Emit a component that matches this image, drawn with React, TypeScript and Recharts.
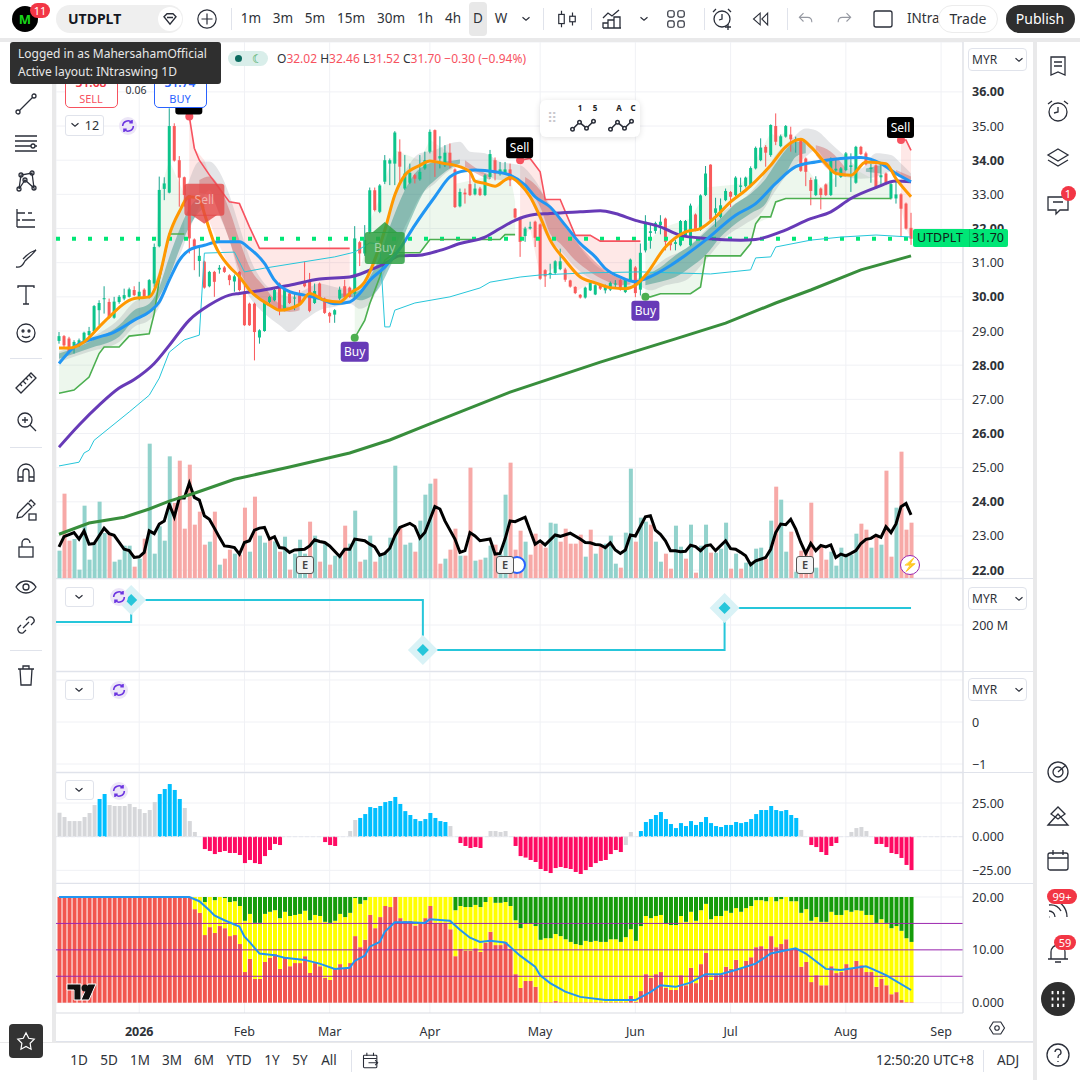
import React from "react";
import {
  Area,
  Bar,
  CartesianGrid,
  ComposedChart,
  Line,
  ReferenceDot,
  ReferenceLine,
  XAxis,
  YAxis,
} from "recharts";

const FONT = '"Noto Sans", sans-serif';

const opens = [
  28.71,28.85,28.78,28.53,28.58,28.71,28.88,29.0,29.61,29.93,
  29.85,29.39,29.85,29.95,30.0,30.2,30.0,30.21,30.0,30.39,
  31.48,33.16,33.05,35.0,34.0,33.5,32.98,31.68,31.05,31.03,
  30.31,30.73,30.8,30.86,30.63,30.45,30.73,30.15,29.8,29.8,
  28.81,29.0,29.85,29.9,30.39,29.61,30.1,29.95,30.05,30.44,
  30.44,29.82,30.39,29.95,29.53,29.48,29.95,30.31,30.27,30.09,
  31.6,31.27,31.9,33.12,32.49,33.37,33.9,33.9,34.25,33.17,
  33.34,33.56,33.44,33.76,34.25,34.88,34.05,33.85,34.22,33.73,
  32.65,33.05,33.3,33.0,33.17,32.98,33.51,34.0,33.59,33.61,
  33.73,32.58,32.32,31.78,32.0,32.2,32.12,30.78,30.68,30.7,
  30.81,30.8,30.48,30.29,30.06,29.98,30.19,30.07,30.34,30.19,
  30.21,30.36,30.49,30.14,30.48,30.86,30.21,31.36,31.87,31.93,
  32.1,32.29,31.61,31.55,31.51,31.8,31.51,32.41,31.97,32.98,
  33.87,32.46,32.34,32.83,33.07,32.98,33.22,33.24,33.24,33.76,
  34.0,34.39,34.15,35.0,34.41,34.69,34.75,34.58,34.61,34.05,
  33.42,32.98,33.17,33.29,32.98,33.7,33.51,33.71,33.8,33.34,
  34.39,34.2,33.74,33.85,33.5,33.61,32.88,32.88,33.0,32.73,
  32.02,
];
const highs = [
  28.97,28.88,28.83,28.73,28.78,28.98,29.12,29.76,29.9,30.31,
  29.95,30.0,30.05,30.24,30.27,30.31,30.44,30.25,30.52,31.56,
  33.52,33.5,35.52,35.08,34.12,33.52,32.98,31.71,31.51,31.06,
  30.76,30.76,30.93,30.9,30.66,30.65,30.76,30.44,29.83,29.83,
  29.05,29.88,30.03,30.29,30.42,30.24,30.13,30.1,30.2,31.03,
  30.7,30.39,30.42,29.98,29.56,29.64,30.3,30.5,30.3,32.07,
  31.64,32.1,33.2,33.2,33.3,34.15,34.05,34.85,34.61,34.15,
  33.9,33.6,34.15,34.25,34.9,34.9,34.7,34.44,34.49,33.76,
  33.17,33.17,33.66,33.32,33.22,33.6,34.3,34.08,33.95,33.95,
  33.9,32.6,32.35,32.05,32.2,32.23,32.15,30.81,30.97,31.07,
  31.41,30.85,30.5,30.31,30.08,30.3,30.45,30.37,30.37,30.36,
  30.45,30.49,30.52,30.54,31.12,30.9,31.56,32.39,32.15,32.2,
  32.39,32.32,31.65,31.66,32.25,32.25,32.73,32.44,33.0,33.83,
  33.88,32.9,32.88,33.17,33.1,33.53,33.49,33.52,33.82,34.4,
  34.64,34.44,35.05,35.37,34.75,35.03,34.98,34.69,34.63,34.08,
  33.49,33.53,33.2,33.32,34.08,34.02,33.8,34.24,34.2,34.42,
  34.42,34.25,33.9,33.88,33.9,33.64,33.33,33.39,33.03,32.76,
  32.46,
];
const lows = [
  28.63,28.53,28.34,28.34,28.53,28.68,28.83,28.97,29.17,29.51,
  29.36,29.36,29.8,29.9,29.98,30.02,29.9,29.97,29.95,30.29,
  31.45,32.83,33.03,33.96,32.64,32.64,31.27,30.78,30.59,30.24,
  30.28,30.0,30.68,30.7,30.34,30.15,30.16,29.15,29.15,28.14,
  28.63,28.98,29.8,29.87,29.46,29.58,29.79,29.61,29.77,30.28,
  29.55,29.79,29.92,29.5,29.24,29.24,29.9,29.97,29.97,30.0,
  30.9,31.2,31.85,32.5,32.45,33.3,33.27,33.27,33.32,33.12,
  33.3,33.32,33.4,33.72,34.2,33.51,33.76,33.8,33.76,32.6,
  32.62,32.73,32.95,32.97,32.95,32.95,33.45,33.41,33.55,33.58,
  33.24,32.28,31.17,31.61,31.97,31.46,30.5,30.29,30.53,30.65,
  30.78,30.44,30.27,30.08,29.95,29.95,30.17,30.05,30.2,30.1,
  30.17,30.24,30.18,30.11,30.45,29.99,30.04,31.3,31.41,31.85,
  31.83,31.36,31.36,31.36,31.48,31.77,31.48,31.92,31.93,32.95,
  32.22,32.05,32.3,32.8,32.63,32.95,33.07,33.2,33.2,33.73,
  33.97,33.81,34.1,34.44,34.38,34.66,34.25,34.22,33.66,33.24,
  32.68,32.95,32.56,32.95,32.95,33.22,33.48,33.68,33.07,33.31,
  34.15,33.85,33.34,33.17,33.24,33.27,32.85,32.73,31.75,31.97,
  31.52,
];
const closes = [
  28.85,28.58,28.39,28.68,28.73,28.95,29.0,29.73,29.82,29.96,
  29.39,29.86,30.0,30.05,30.22,30.05,30.15,30.0,30.49,31.46,
  33.13,33.32,35.0,33.99,33.49,32.98,31.71,31.47,31.2,30.27,
  30.73,30.44,30.85,30.73,30.49,30.6,30.2,29.17,29.17,28.97,
  29.02,29.85,30.0,30.2,29.61,30.2,29.82,29.98,29.8,30.31,
  29.59,30.17,29.95,29.53,29.43,29.61,30.21,30.0,30.0,31.71,
  31.27,31.66,33.12,32.54,33.26,34.0,34.0,34.81,33.81,33.61,
  33.63,33.46,33.66,34.0,34.83,34.0,34.12,34.22,33.85,32.63,
  33.07,33.0,32.98,33.17,32.98,33.56,34.18,33.61,33.73,33.73,
  33.41,32.32,31.61,32.0,32.05,31.73,30.53,30.6,30.7,31.04,
  31.04,30.5,30.3,30.11,29.98,30.27,30.41,30.34,30.24,30.29,
  30.41,30.39,30.21,30.5,31.09,30.11,31.29,32.2,31.92,32.16,
  32.2,31.61,31.51,31.6,32.22,32.22,32.67,31.95,32.97,33.61,
  32.26,32.59,32.68,33.1,32.93,33.49,33.26,33.49,33.77,34.36,
  34.37,34.22,35.03,34.54,34.7,35.0,34.61,34.62,33.69,33.66,
  33.1,33.44,32.98,32.98,34.05,33.75,33.76,34.2,33.85,34.39,
  34.18,33.88,33.78,33.2,33.56,33.3,33.3,33.0,32.58,32.0,
  31.7,
];
// signed: positive bars teal, negative bars pink
const volumes = [
  82,-253,-112,117,25,217,55,105,229,135,
  -130,49,55,97,97,-34,58,-118,403,73,
  155,112,365,-225,-352,-148,-340,-160,-199,-100,
  109,-199,40,-58,-85,73,-70,-211,79,-244,
  127,106,-124,110,-79,124,-25,73,115,73,
  -169,127,-49,109,-40,67,67,-157,103,202,
  -49,55,127,-49,70,73,121,337,-151,100,
  106,-79,172,250,283,-298,-43,58,-85,-148,
  67,-67,-331,52,-55,61,97,-100,70,250,
  -346,-85,-142,109,-70,-133,-103,-91,166,163,
  -109,-148,-103,-103,-130,64,-145,73,-97,103,
  127,43,-31,136,328,-109,181,169,-160,109,
  49,-73,-28,157,94,-58,160,-16,97,160,
  -76,76,88,166,-28,73,-28,46,49,88,
  91,-58,172,-274,235,79,-139,19,-82,-82,
  -226,31,-94,-55,79,37,91,73,70,133,
  -163,-145,91,-124,100,-322,-64,211,-379,-145,
  -166,
];

const orangeLine: number[][] = [
  [0,28.5],[2,28.5],[5,28.68],[9,29.27],[15,29.95],[18,30.0],[20,30.59],[22,31.81],[24,32.49],[26,32.93],
  [28,32.88],[29,32.44],[31,31.56],[34,30.88],[36,30.59],[38,30.2],[42,29.76],[44,29.61],[48,29.78],[50,30.1],
  [53,29.9],[56,29.85],[58,30.1],[61,30.44],[65,31.95],[67,32.98],[69,33.56],[72,33.85],[74,33.98],[77,33.9],
  [79,33.85],[82,33.66],[83,33.39],[85,33.32],[87,33.24],[89,33.42],[90,33.49],[92,33.3],[94,32.93],[96,32.34],
  [98,31.66],[101,31.07],[104,30.58],[107,30.41],[110,30.27],[113,30.24],[115,30.34],[117,30.63],[121,31.46],[125,31.9],
  [128,32.0],[131,32.34],[134,32.78],[137,33.12],[142,33.85],[145,34.39],[148,34.61],[150,34.39],[153,33.9],[155,33.61],
  [158,33.56],[161,33.95],[165,33.9],[167,33.46],[170,32.93],
];
const blueLine: number[][] = [
  [0,28.05],[3,28.53],[7,28.78],[11,28.97],[15,29.32],[18,29.56],[20,29.85],[22,30.49],[24,31.07],[26,31.37],
  [29,31.51],[32,31.61],[36,31.61],[38,31.42],[41,30.98],[43,30.49],[46,30.15],[49,30.05],[52,29.95],[55,29.8],
  [58,29.85],[60,30.1],[62,30.48],[65,30.87],[68,31.41],[71,32.1],[75,32.93],[78,33.51],[81,33.69],[83,33.71],
  [87,33.66],[90,33.56],[93,33.27],[95,32.93],[98,32.63],[101,32.1],[104,31.56],[107,31.17],[109,30.83],[112,30.58],
  [115,30.44],[117,30.53],[122,30.92],[125,31.22],[129,31.66],[135,32.39],[139,32.73],[143,33.32],[147,33.81],[151,33.95],
  [156,34.05],[160,34.08],[164,33.9],[167,33.61],[170,33.37],
];
const purpleLine: number[][] = [
  [0,25.6],[4,26.25],[8,26.83],[12,27.33],[15,27.58],[19,28.05],[22,28.58],[26,29.32],[30,29.76],[34,30.05],
  [36,30.1],[40,30.18],[46,30.34],[52,30.52],[58,30.58],[62,30.78],[65,30.97],[68,31.2],[72,31.22],[76,31.36],
  [80,31.56],[85,31.75],[88,32.0],[91,32.24],[94,32.39],[98,32.44],[104,32.49],[108,32.52],[111,32.44],[115,32.24],
  [120,32.05],[124,31.8],[129,31.71],[136,31.66],[139,31.68],[144,31.9],[150,32.29],[154,32.49],[158,32.88],[163,33.2],
  [167,33.39],[170,33.37],
];
const longLine: number[][] = [
  [0,23.05],[6,23.38],[13,23.55],[18,23.79],[22,24.02],[27,24.25],[35,24.66],[46,25.02],[58,25.43],[66,25.81],
  [74,26.28],[90,27.21],[108,28.09],[123,28.77],[133,29.23],[143,29.82],[150,30.2],[160,30.79],[170,31.2],
];
const cyanLine: number[][] = [
  [0,25.05],[4,25.16],[5,25.43],[6,25.51],[7,25.8],[14,26.63],[18,27.12],[20,27.62],[22,28.38],[25,28.74],
  [28,28.88],[29,31.28],[35,31.31],[37,30.73],[41,30.84],[55,31.17],[59,31.31],[62,31.58],[64,31.55],[65,29.12],
  [66,29.12],[67,29.61],[71,29.82],[78,30.0],[84,30.26],[86,30.43],[92,30.58],[96,30.64],[105,30.7],[116,30.73],
  [123,30.7],[130,30.67],[138,30.79],[139,31.14],[142,31.17],[143,31.46],[150,31.66],[156,31.75],[163,31.81],[170,31.75],
];
const blackLine: number[][] = [
  [0,22.68],[1,22.98],[3,23.1],[4,22.91],[5,23.15],[6,22.76],[7,22.78],[9,23.23],[10,23.07],[11,23.02],
  [13,22.61],[14,22.57],[15,22.37],[16,22.39],[17,22.52],[18,23.15],[19,23.07],[20,23.35],[21,23.44],[22,23.93],
  [23,23.56],[24,24.11],[25,24.11],[26,24.55],[27,24.13],[28,24.05],[29,23.59],[30,23.49],[31,23.23],[32,22.96],
  [33,22.71],[34,22.69],[35,22.66],[36,22.47],[37,22.81],[38,22.86],[39,23.17],[40,23.23],[41,23.25],[42,22.91],
  [43,22.98],[44,22.66],[45,22.64],[46,22.52],[47,22.59],[49,22.61],[50,22.71],[51,22.89],[52,22.84],[53,22.81],
  [54,22.71],[56,22.4],[57,22.61],[58,22.61],[59,22.91],[61,22.86],[62,22.76],[63,22.68],[64,22.44],[65,22.49],
  [66,22.64],[67,23.0],[68,23.25],[70,23.37],[71,23.28],[72,22.94],[73,23.1],[75,23.86],[76,23.79],[77,23.44],
  [79,22.91],[80,22.52],[81,22.57],[82,23.1],[83,23.0],[84,22.86],[86,22.91],[87,22.47],[88,22.49],[89,22.91],
  [90,23.44],[91,23.42],[93,23.55],[95,22.76],[96,22.86],[97,22.74],[99,23.03],[100,22.99],[102,23.08],[104,22.91],
  [105,22.81],[106,22.8],[107,22.75],[108,22.74],[109,22.66],[110,22.8],[111,22.59],[112,22.49],[113,22.59],[114,23.03],
  [115,23.0],[117,23.56],[118,23.59],[119,23.17],[120,23.05],[121,22.86],[122,22.57],[123,22.57],[124,22.54],[125,22.55],
  [126,22.73],[127,22.69],[128,22.57],[129,22.71],[130,22.74],[131,22.57],[133,22.86],[134,22.63],[135,22.61],[136,22.52],
  [137,22.42],[138,22.16],[139,22.27],[141,22.37],[142,22.61],[143,23.1],[144,23.35],[145,23.33],[146,23.49],[147,23.2],
  [148,22.81],[149,22.49],[150,22.78],[151,22.57],[152,22.72],[153,22.68],[154,22.74],[155,22.37],[156,22.47],[157,22.42],
  [158,22.49],[159,22.57],[160,22.78],[161,22.9],[162,22.93],[163,23.02],[164,22.96],[165,23.27],[166,23.1],[167,23.35],
  [168,23.86],[169,23.95],[170,23.62],
];

const greenStop1: number[][] = [[0,27.18],[3,27.27],[6,27.65],[8,28.34],[9,28.53],[12,28.53],[14,28.85],[18,28.92],[19,29.51],[20,30.49],[22,31.84],[25,31.84]];
const greenStop2: number[][] = [[59,28.8],[61,29.31],[62,29.8],[64,30.58],[65,31.07],[67,31.29],[72,31.29],[74,31.68],[88,31.68],[89,31.82],[91,31.82]];
const greenStop3: number[][] = [[117,30.0],[118,30.0],[120,30.09],[126,30.09],[128,30.29],[129,31.2],[136,31.2],[138,31.56],[139,32.14],[140,32.34],[142,32.34],[143,32.78],[145,32.88],[166,32.88]];
const redStop1: number[][] = [[26,35.28],[27,34.35],[28,34.0],[30,33.57],[32,33.17],[34,32.78],[36,32.73],[38,32.05],[40,31.42],[58,31.42]];
const redStop2: number[][] = [[92,34.0],[94,34.05],[96,33.66],[97,32.85],[100,32.85],[103,31.8],[106,31.8],[108,31.63],[116,31.63]];
const redStop3: number[][] = [[168,34.59],[169,34.59],[170,34.29]];

const greenFill1: number[][] = [[0,27.18,28.5],[3,27.27,28.55],[6,27.65,28.75],[8,28.34,29.0],[9,28.53,29.27],[12,28.53,29.6],[14,28.85,29.95],[18,28.92,30.0],[19,29.51,31.0],[20,30.49,33.0],[22,31.84,34.0],[25,31.84,33.0]];
const greenFill2: number[][] = [[59,28.8,30.3],[61,29.31,31.3],[62,29.8,32.2],[64,30.58,32.9],[65,31.07,33.4],[67,31.29,34.3],[72,31.29,34.0],[74,31.68,34.6],[78,31.68,34.2],[79,31.68,33.3],[85,31.68,33.5],[88,31.68,33.7],[89,31.82,33.75],[90,31.82,33.6],[91,31.82,32.8]];
const greenFill3: number[][] = [[117,30.0,31.5],[120,30.09,32.0],[126,30.09,32.3],[128,30.29,32.8],[129,31.2,33.2],[136,31.2,33.3],[138,31.56,33.6],[139,32.14,34.0],[142,32.34,34.8],[143,32.78,34.7],[145,32.88,34.8],[148,32.88,34.0],[152,32.88,33.2],[158,32.88,33.8],[163,32.88,33.4],[166,32.88,33.3]];
const pinkFill1: number[][] = [[26,32.93,35.28],[27,32.9,34.35],[29,32.5,34.0],[30,32.2,33.57],[32,31.5,33.17],[34,30.88,32.78],[36,30.59,32.73],[38,30.25,32.05],[40,29.95,31.42],[44,29.63,31.42],[48,29.78,31.42],[51,30.1,31.42],[53,29.9,31.42],[57,29.85,31.42],[58,30.0,31.42]];
const pinkFill2: number[][] = [[92,31.6,34.0],[94,32.0,34.05],[96,30.6,33.66],[97,30.7,32.85],[100,30.95,32.85],[103,30.15,31.8],[106,30.4,31.8],[108,30.3,31.63],[112,30.3,31.63],[116,30.7,31.63]];
const pinkFill3: number[][] = [[168,32.6,34.59],[169,32.0,34.59],[170,31.7,34.29]];

const greyCloud: number[][] = [
  [0,28.09,28.39],[6,28.39,28.78],[12,28.68,29.36],[15,29.12,29.85],[18,29.32,30.0],[20,29.71,30.78],[22,30.59,31.76],[24,31.17,32.44],[26,31.95,33.42],[28,32.64,33.96],
  [30,33.13,33.96],[32,32.39,33.66],[34,31.66,32.98],[36,30.59,32.05],[38,30.0,31.17],[41,29.51,30.39],[44,29.17,30.1],[46,28.97,30.0],[49,29.32,30.2],[52,29.61,30.39],
  [55,29.71,30.29],[58,29.8,30.24],[60,29.65,30.29],[62,29.8,30.87],[64,30.39,31.66],[66,31.07,32.54],[68,31.75,33.32],[70,32.34,33.9],[72,32.93,34.2],[75,33.32,34.3],
  [78,33.71,34.49],[80,33.81,34.54],[82,33.76,34.25],[85,33.56,34.2],[88,33.42,33.95],[90,33.46,33.9],[92,33.42,33.85],[95,32.54,33.41],[97,31.85,32.93],[100,31.36,32.24],
  [103,30.87,31.66],[106,30.53,31.07],[109,30.29,30.73],[112,30.24,30.58],[115,30.34,30.53],[118,30.19,30.78],[121,30.34,31.12],[125,30.48,31.41],[129,31.07,31.95],[133,31.75,32.54],
  [137,32.14,32.93],[140,32.44,33.41],[143,33.12,34.15],[146,33.71,34.59],[149,34.1,34.93],[151,34.3,34.88],[154,33.71,34.49],[157,33.51,34.1],[160,33.46,33.76],[163,33.51,34.2],
  [166,33.66,34.15],[168,33.46,33.9],[170,33.32,33.61],
];
const tealRibbon1: number[][] = [[0,28.19,28.34],[6,28.49,28.68],[12,28.83,29.17],[15,29.32,29.61],[18,29.51,29.8],[20,30.0,30.29],[22,30.59,31.17],[24,31.37,31.95],[26,32.05,32.59],[28,32.49,32.88],[29,32.6,32.85]];
const tealRibbon2: number[][] = [[56,29.95,30.1],[58,30.0,30.1],[60,29.9,30.19],[62,29.99,30.58],[64,30.29,31.17],[66,30.87,32.05],[67,31.17,32.44],[69,31.85,33.12],[71,32.54,33.61],[73,33.12,33.85],[75,33.41,33.95],[78,33.76,33.98],[80,33.9,34.02]];
const tealRibbon3: number[][] = [[117,30.34,30.63],[120,30.44,30.87],[123,30.58,31.22],[126,30.87,31.51],[129,31.22,31.9],[132,31.75,32.29],[135,32.14,32.73],[138,32.44,33.02],[141,32.73,33.46],[143,33.32,33.9],[145,33.61,34.3],[147,34.1,34.54],[149,34.2,34.54]];
const tealRibbon4: number[][] = [[161,33.66,33.76],[164,33.61,33.86]];
const redRibbon1: number[][] = [[28,33.03,33.42],[30,32.98,33.52],[32,32.44,33.22],[34,31.66,32.54],[36,30.78,31.66],[38,30.24,30.88],[41,29.8,30.29],[44,29.61,29.8],[46,29.56,29.71],[48,29.61,29.76]];
const redRibbon2: number[][] = [[81,33.8,34.0],[84,33.55,33.7],[86,33.42,33.56]];
const redRibbon3: number[][] = [[93,33.22,33.51],[96,32.63,33.12],[98,31.85,32.63],[100,31.56,32.24],[103,31.07,31.66],[106,30.73,31.17],[109,30.48,30.78],[112,30.34,30.53],[114,30.36,30.41]];
const redRibbon4: number[][] = [[151,34.15,34.44],[154,33.66,34.25],[157,33.51,33.76]];
const redRibbon5: number[][] = [[167,33.56,33.71],[170,33.42,33.52]];

const sellSignals: number[][] = [[26,35.28],[92,34.0],[168,34.59]];
const buySignals: number[][] = [[59,28.8],[117,30.0]];

// the pivot step line in the second pane, in millions
const stepK = [-1, 14.4, 72.6, 132.8, 170];
const stepValue = [206, 250, 150, 234, 234];

const histogram = [
  17.8,14.6,11.6,11.6,11.6,14.6,17.6,23.5,28,31.7,
  23.5,22.8,22.8,22.8,24.3,22,20.5,17.6,19.8,25.7,
  31.7,35.4,39.1,34.7,28,21.3,11.6,3.5,0,-9.2,
  -10.6,-12.9,-11.4,-10.6,-12.1,-12.1,-13.6,-19.6,-17.3,-19.6,
  -20.3,-14.4,-9.9,-5.4,-6.2,0,0,0,0,0,
  0,0,0,-4,-6.2,-6.9,0,0,4.2,12.4,
  13.9,16.8,22,21.3,22.8,25.7,26.5,29.5,24.3,19,
  16.1,13.1,11.6,13.1,17.6,13.9,11.6,10.9,7.9,0,
  -4.7,-6.9,-8.4,-7.7,-8.4,0,4.2,4.2,3.5,4.2,
  0,-6.9,-14.4,-15.5,-17.3,-18.8,-24,-25.5,-27,-23.3,
  -22.5,-23.3,-24,-26.2,-27.7,-24.8,-22.5,-19.6,-18,-17.3,
  -12.9,-9.9,-11.4,-6.2,3.5,0,4.2,10.9,13.1,16.1,
  18.3,13.1,9.4,6.4,10.1,7.9,11.6,8.7,10.9,14.6,
  10.1,7.9,7.2,8.7,8.7,10.9,10.1,10.9,13.1,16.8,
  19.8,19.8,22.8,19.8,19,19.8,16.1,13.9,5,0,
  -6.2,-7.7,-11.4,-13.6,-6.9,-4.7,0,0,3.5,6.4,
  7.2,4.2,0,-5.4,-5.4,-7.7,-12.1,-12.9,-15.8,-21,
  -24.8,
];
const histBlueRuns = [[8,9],[20,24],[60,77],[116,147]];
const histGreyNegative = [113];

const redLevel = [
  20,20,20,20,20,20,20,20,20,20,
  20,20,20,20,20,20,20,20,20,20,
  20,20,20,20,20,20,20,17.7,17,12.8,
  14.3,13.2,14.5,14.1,12.6,12.8,11.1,5.8,8.3,4.5,
  4.5,7.7,8.5,9.2,6.4,8.5,6.9,7.5,7.5,8.8,
  5.6,7.5,6.9,4.7,4.3,6.4,7.3,6.4,7.5,12.6,
  10.5,11.9,16.6,14.1,16.2,18.3,18.1,20,16,15.5,
  15.5,14.6,15.1,16,18.3,15.1,15.1,15.1,13.9,8.8,
  10.2,9.8,9.8,10.3,9.6,11.3,13.4,10.9,10.9,11.5,
  10.2,5.4,2.8,4.1,4.1,3,0.1,0.1,0.1,0.3,
  0.1,0.1,0.1,0.1,0.1,0.1,0.1,0.1,0.1,0.1,
  0.1,0.1,0.1,0.1,1.3,0.2,2.2,5.4,4.7,5.4,
  5.8,2.8,2.4,2.4,5.2,3.3,6.6,3.7,7.3,9.4,
  4.3,5.2,5.4,6.8,6.4,8.1,6.4,7.9,8.6,10.5,
  10.7,10.2,12.6,10.5,11.1,12,10.2,10.2,6.8,7.7,
  3.9,5.2,3.3,3.3,6.9,5.6,5.8,7.3,6.6,7.9,
  7.1,5.8,5.8,3,4.5,3.3,1.6,2,0.5,0.1,
  0.1,
];
const yellowLevel = [
  20,20,20,20,20,20,20,20,20,20,
  20,20,20,20,20,20,20,20,20,20,
  20,20,20,20,20,20,20,20,20,19.05,
  20,19.4,20,19.8,19.05,19.2,18.3,15.5,16.8,15.1,
  15.1,16.8,17.2,17.5,16,17.2,16.4,16.6,16.8,17.4,
  15.6,16.6,16.4,15.3,15.1,15.5,16.8,16.2,17,19.8,
  18.7,19.4,20,20,20,20,20,20,20,20,
  20,20,20,20,20,20,20,20,20,17.5,
  18.3,18.1,18.1,18.5,18.1,19.05,20,18.9,18.9,19.05,
  18.3,15.6,14.1,14.9,14.9,14.5,11.9,12.2,12.2,13,
  12.6,12,11.5,11.1,10.9,11.7,11.5,11.7,11.5,11.5,
  12,12,11.5,12.4,13.9,11.7,14.5,16.4,16,16.4,
  16.6,14.9,14.7,14.7,16.4,15.3,17.2,15.5,17.5,18.7,
  15.8,16.4,16.4,17.4,17,17.9,17.2,17.9,18.3,19.4,
  19.4,19.2,20,19.2,19.6,20,19.2,19.2,17,17.7,
  15.5,16.2,15.3,15.3,17.2,16.6,16.6,17.5,17.2,17.5,
  17.4,16.6,16.6,15.1,15.8,15.1,14.1,14.5,13.6,12.2,
  11.5,
];
const scoreLine: number[][] = [
  [0,20],[26,20],[28,19.2],[30,17.5],[31,16.5],[33,15.6],[36,14.4],[37,12.5],[38,11.5],[40,9.3],
  [43,9],[45,8.5],[49,8.1],[52,7.4],[55,6.4],[58,6.6],[59,7.9],[61,8.9],[62,10.6],[64,11.5],
  [65,13.4],[67,15.2],[70,15.2],[73,15.1],[74,15.8],[78,15.5],[80,13.8],[82,12.3],[84,11.5],[86,11.7],
  [89,11.4],[90,10.6],[92,8.9],[95,6.8],[96,5.2],[98,3.7],[101,2.1],[104,1.1],[109,0.5],[115,0.5],
  [118,2],[120,3.3],[123,3],[126,3.8],[129,5.4],[132,5.4],[135,6.2],[139,7.4],[142,9.3],[147,10.3],
  [149,9.3],[153,6.4],[156,6.2],[161,6.9],[162,6.5],[165,5.2],[170,2.4],
];

const monthTicks = [16, 37, 54, 74, 96, 115, 134, 157, 176];
const monthLabels = ["2026", "Feb", "Mar", "Apr", "May", "Jun", "Jul", "Aug", "Sep"];
const priceTicks = [36,35,34,33,32,31,30,29,28,27,26,25,24,23,22];
const flatTicks = [1, 0, -1];
const histTicks = [25, 0, -25];
const scoreTicks = [20, 15, 10, 5, 0];
const scoreLabelled = [20, 10, 0];
const timeframes = ["1m","3m","5m","15m","30m","1h","4h","D","W"];
const timeframeX = [251,283,315,351,391,425,453,478,501];
const ranges = ["1D","5D","1M","3M","6M","YTD","1Y","5Y","All"];
const rangeX = [79,109,140,172,204,239,272,300,329];

const X_DOMAIN = [-0.6, 180.37];
const GRID = "#f0f1f5";
const TEXT = "#2e3238";

const knotSeries: Record<string, number[][]> = {
  orange: orangeLine, blue: blueLine, purple: purpleLine, long: longLine, cyan: cyanLine, black: blackLine,
  gs1: greenStop1, gs2: greenStop2, gs3: greenStop3, rs1: redStop1, rs2: redStop2, rs3: redStop3, score: scoreLine,
};
const bandSeries: Record<string, number[][]> = {
  gf1: greenFill1, gf2: greenFill2, gf3: greenFill3, pf1: pinkFill1, pf2: pinkFill2, pf3: pinkFill3,
  cloud: greyCloud, tr1: tealRibbon1, tr2: tealRibbon2, tr3: tealRibbon3, tr4: tealRibbon4,
  rr1: redRibbon1, rr2: redRibbon2, rr3: redRibbon3, rr4: redRibbon4, rr5: redRibbon5,
};

function histColor(k: number, v: number) {
  if (histBlueRuns.some(([a, b]) => k >= a && k <= b)) return "#00bfff";
  if (v < 0 && !histGreyNegative.includes(k)) return "#ff0a63";
  return "#d6d7da";
}

const rows: any[] = closes.map((close, k) => {
  const row: any = {
    k,
    open: opens[k],
    close,
    hl: [lows[k], highs[k]],
    volume: Math.abs(volumes[k]),
    volColor: volumes[k] >= 0 ? "#92d2cc" : "#f7a9a7",
    hist: histogram[k],
    histColor: histColor(k, histogram[k]),
    redPart: redLevel[k],
    yellowPart: yellowLevel[k] - redLevel[k],
    greenPart: 20 - yellowLevel[k],
  };
  Object.keys(bandSeries).forEach((name) => { row[name] = [null, null]; });
  return row;
});
Object.entries(knotSeries).forEach(([name, pts]) => pts.forEach(([k, v]) => { rows[k][name] = v; }));
Object.entries(bandSeries).forEach(([name, pts]) => pts.forEach(([k, lo, hi]) => { rows[k][name] = [lo, hi]; }));

const stepRows = stepK.map((k, i) => ({ k, step: stepValue[i] }));

function Candle(p: any) {
  const { x, y, width, height, payload } = p;
  const top = Math.min(y, y + height);
  const h = Math.abs(height);
  const hi = payload.hl[1];
  const lo = payload.hl[0];
  const toY = (v: number) => top + ((hi - v) / (hi - lo || 1)) * h;
  const up = payload.close >= payload.open;
  const bodyTop = toY(Math.max(payload.open, payload.close));
  const bodyH = Math.max(1, toY(Math.min(payload.open, payload.close)) - bodyTop);
  const cx = x + width / 2;
  return (
    <g>
      <line x1={cx} x2={cx} y1={top} y2={top + h} stroke={up ? "#1aa58f" : "#f9575a"} strokeWidth={1} />
      <rect x={x} y={bodyTop} width={width} height={bodyH} fill={up ? "#0dc48b" : "#f95b5b"} />
    </g>
  );
}

function ColorBar(p: any) {
  const h = Math.abs(p.height);
  if (!h) return null;
  return <rect x={p.x} y={Math.min(p.y, p.y + p.height)} width={p.width} height={h} fill={p.fill} />;
}
const VolumeBar = (p: any) => <ColorBar {...p} fill={p.payload.volColor} />;
const HistBar = (p: any) => <ColorBar {...p} fill={p.payload.histColor} />;

function AxisTick(p: any) {
  const { x, y, payload, format, boldTest } = p;
  return (
    <text x={x} y={y + 4.5} fontSize={12.5} fontFamily={FONT} fill={TEXT} fontWeight={boldTest?.(payload.value) ? 700 : 400}>
      {format(payload.value)}
    </text>
  );
}
const priceFormat = (v: number) => v.toFixed(2);
const evenTest = (v: number) => v % 2 === 0;
const flatFormat = (v: number) => (v === 0 ? "0" : v === -1 ? "−1" : "");
const millionFormat = (v: number) => `${v} M`;
const histFormat = (v: number) => (v === 0 ? "0.000" : v < 0 ? `−${Math.abs(v).toFixed(2)}` : v.toFixed(2));
const scoreFormat = (v: number) => (scoreLabelled.includes(v) ? (v === 0 ? "0.000" : v.toFixed(2)) : "");

function MonthTick(p: any) {
  const i = monthTicks.indexOf(p.payload.value);
  return (
    <text x={p.x} y={p.y + 15} textAnchor="middle" fontSize={12.5} fontFamily={FONT} fill={TEXT} fontWeight={i === 0 ? 700 : 400}>
      {monthLabels[i]}
    </text>
  );
}

function SellMark(p: any) {
  return (
    <g>
      <circle cx={p.cx} cy={p.cy} r={4} fill="#f7525f" />
      <rect x={p.cx - 14} y={p.cy - 23} width={27} height={21} rx={3} fill="#000" />
      <text x={p.cx - 0.5} y={p.cy - 8} textAnchor="middle" fontSize={12} fontFamily={FONT} fill="#fff">Sell</text>
    </g>
  );
}
function BuyMark(p: any) {
  return (
    <g>
      <circle cx={p.cx} cy={p.cy} r={4} fill="#4caf50" />
      <rect x={p.cx - 14} y={p.cy + 4} width={28} height={20} rx={3} fill="#673ab7" />
      <text x={p.cx} y={p.cy + 18.5} textAnchor="middle" fontSize={12} fontFamily={FONT} fill="#fff">Buy</text>
    </g>
  );
}
function BigLabel(p: any) {
  const up = p.kind === "Buy";
  const fill = up ? "rgba(46,160,67,0.85)" : "rgba(226,70,70,0.8)";
  const c = p.cy;
  const arrow = up ? `M${p.cx - 13} ${c - 15} L${p.cx} ${c - 26} L${p.cx + 13} ${c - 15} Z` : `M${p.cx - 13} ${c + 15} L${p.cx} ${c + 24} L${p.cx + 13} ${c + 15} Z`;
  return (
    <g>
      <path d={arrow} fill={fill} />
      <rect x={p.cx - 20} y={c - 16} width={40} height={32} rx={3} fill={fill} />
      <text x={p.cx} y={c + 4} textAnchor="middle" fontSize={12} fontFamily={FONT} fill="rgba(255,255,255,0.5)">{p.kind}</text>
    </g>
  );
}
function Diamond(p: any) {
  const r = 15;
  return (
    <g>
      <path d={`M${p.cx} ${p.cy - r} L${p.cx + r} ${p.cy} L${p.cx} ${p.cy + r} L${p.cx - r} ${p.cy} Z`} fill="#d9f2f6" />
      <path d={`M${p.cx} ${p.cy - 6} L${p.cx + 6} ${p.cy} L${p.cx} ${p.cy + 6} L${p.cx - 6} ${p.cy} Z`} fill="#26c6da" />
    </g>
  );
}
const buyBig = (p: any) => <BigLabel {...p} kind="Buy" />;
const sellBig = (p: any) => <BigLabel {...p} kind="Sell" />;

const timeAxis = (extra: any = {}) => (
  <XAxis type="number" dataKey="k" domain={X_DOMAIN} ticks={monthTicks} allowDataOverflow interval={0} {...extra} />
);

const paneStyle = (top: number): React.CSSProperties => ({ position: "absolute", left: 56, top });

function PricePane() {
  return (
    <>
      <div style={paneStyle(42)}>
        <ComposedChart width={977} height={536} data={rows} margin={{ top: 0, right: 0, bottom: 0, left: 0 }}>
          <CartesianGrid stroke={GRID} />
          {timeAxis({ hide: true })}
          <YAxis orientation="right" type="number" width={70} domain={[21.77, 37.46]} ticks={priceTicks} interval={0} allowDataOverflow tickLine={false} tickSize={0} tickMargin={9} axisLine={{ stroke: "#d9dbe1" }}
            tick={<AxisTick format={priceFormat} boldTest={evenTest} />} />
          <YAxis yAxisId="vol" hide type="number" domain={[0, 1608]} allowDataOverflow />
          <Bar yAxisId="vol" dataKey="volume" barSize={4} shape={VolumeBar} isAnimationActive={false} />
        </ComposedChart>
      </div>
      <div style={paneStyle(42)}>
        <ComposedChart width={977} height={536} data={rows} margin={{ top: 0, right: 70, bottom: 0, left: 0 }}>
          {timeAxis({ hide: true })}
          <YAxis hide type="number" domain={[21.77, 37.46]} allowDataOverflow />
          <Line dataKey="black" stroke="#000" strokeWidth={3} dot={false} connectNulls isAnimationActive={false} />
          <Bar dataKey="hl" barSize={3} shape={Candle} isAnimationActive={false} />
          {["gf1", "gf2", "gf3"].map((n) => (
            <Area key={n} dataKey={n} stroke="none" fill="#4caf50" fillOpacity={0.1} connectNulls dot={false} activeDot={false} isAnimationActive={false} />
          ))}
          {["pf1", "pf2", "pf3"].map((n) => (
            <Area key={n} dataKey={n} stroke="none" fill="#f44336" fillOpacity={0.12} connectNulls dot={false} activeDot={false} isAnimationActive={false} />
          ))}
          <Area dataKey="cloud" type="monotone" stroke="none" fill="#787b86" fillOpacity={0.2} connectNulls dot={false} activeDot={false} isAnimationActive={false} />
          {["tr1", "tr2", "tr3", "tr4"].map((n) => (
            <Area key={n} dataKey={n} type="monotone" stroke="none" fill="#00796b" fillOpacity={0.36} connectNulls dot={false} activeDot={false} isAnimationActive={false} />
          ))}
          {["rr1", "rr2", "rr3", "rr4", "rr5"].map((n) => (
            <Area key={n} dataKey={n} type="monotone" stroke="none" fill="#c62828" fillOpacity={0.3} connectNulls dot={false} activeDot={false} isAnimationActive={false} />
          ))}
          <ReferenceLine y={31.7} stroke="#00e676" strokeWidth={4} strokeDasharray="4 12" />
          <ReferenceDot x={29} y={32.84} shape={sellBig} ifOverflow="visible" />
          <ReferenceDot x={65} y={31.43} shape={buyBig} ifOverflow="visible" />
          <Line dataKey="cyan" stroke="#26c6da" strokeWidth={1} dot={false} connectNulls isAnimationActive={false} />
          {["gs1", "gs2", "gs3"].map((n) => (
            <Line key={n} dataKey={n} stroke="#4caf50" strokeWidth={1.6} dot={false} connectNulls isAnimationActive={false} />
          ))}
          {["rs1", "rs2", "rs3"].map((n) => (
            <Line key={n} dataKey={n} stroke="#f7525f" strokeWidth={1.6} dot={false} connectNulls isAnimationActive={false} />
          ))}
          <Line dataKey="long" stroke="#388e3c" strokeWidth={3} dot={false} connectNulls isAnimationActive={false} />
          <Line dataKey="purple" type="monotone" stroke="#673ab7" strokeWidth={3} dot={false} connectNulls isAnimationActive={false} />
          <Line dataKey="blue" type="monotone" stroke="#2196f3" strokeWidth={3} dot={false} connectNulls isAnimationActive={false} />
          <Line dataKey="orange" type="monotone" stroke="#ff9800" strokeWidth={3} dot={false} connectNulls isAnimationActive={false} />
          {sellSignals.map(([k, v]) => <ReferenceDot key={k} x={k} y={v} shape={SellMark} ifOverflow="visible" />)}
          {buySignals.map(([k, v]) => <ReferenceDot key={k} x={k} y={v} shape={BuyMark} ifOverflow="visible" />)}
        </ComposedChart>
      </div>
    </>
  );
}

function StepPane() {
  return (
    <div style={paneStyle(579)}>
      <ComposedChart width={977} height={92} data={stepRows} margin={{ top: 0, right: 0, bottom: 0, left: 0 }}>
        <CartesianGrid stroke={GRID} />
        {timeAxis({ hide: true })}
        <YAxis orientation="right" type="number" width={70} domain={[108, 292]} ticks={[200]} interval={0} allowDataOverflow tickLine={false} tickSize={0} tickMargin={9} axisLine={{ stroke: "#d9dbe1" }}
          tick={<AxisTick format={millionFormat} />} />
        <Line dataKey="step" type="stepAfter" stroke="#26c6da" strokeWidth={2} dot={false} isAnimationActive={false} />
        {stepRows.slice(1, 4).map((r) => (
          <ReferenceDot key={r.k} x={r.k} y={r.step} shape={Diamond} ifOverflow="visible" />
        ))}
      </ComposedChart>
    </div>
  );
}

function FlatPane() {
  return (
    <div style={paneStyle(672)}>
      <ComposedChart width={977} height={100} data={rows} margin={{ top: 0, right: 0, bottom: 0, left: 0 }}>
        <CartesianGrid stroke={GRID} />
        {timeAxis({ hide: true })}
        <YAxis orientation="right" type="number" width={70} domain={[-1.19, 1.19]} ticks={flatTicks} interval={0} allowDataOverflow tickLine={false} tickSize={0} tickMargin={9} axisLine={{ stroke: "#d9dbe1" }}
          tick={<AxisTick format={flatFormat} />} />
      </ComposedChart>
    </div>
  );
}

function HistPane() {
  return (
    <div style={paneStyle(773)}>
      <ComposedChart width={977} height={110} data={rows} margin={{ top: 0, right: 0, bottom: 0, left: 0 }}>
        <CartesianGrid stroke={GRID} />
        {timeAxis({ hide: true })}
        <YAxis orientation="right" type="number" width={70} domain={[-34.4, 47.3]} ticks={histTicks} interval={0} allowDataOverflow tickLine={false} tickSize={0} tickMargin={9} axisLine={{ stroke: "#d9dbe1" }}
          tick={<AxisTick format={histFormat} />} />
        <Bar dataKey="hist" barSize={4} shape={HistBar} isAnimationActive={false} />
        <ReferenceLine y={0} stroke="#e6e8ee" strokeDasharray="4 2" />
      </ComposedChart>
    </div>
  );
}

function ScorePane() {
  return (
    <div style={paneStyle(884)}>
      <ComposedChart width={977} height={157} data={rows} margin={{ top: 0, right: 0, bottom: 0, left: 0 }}>
        <CartesianGrid stroke={GRID} horizontalValues={[20, 10, 0]} />
        {timeAxis({ height: 28, tick: <MonthTick />, tickLine: false, axisLine: { stroke: "#d9dbe1" } })}
        <YAxis orientation="right" type="number" width={70} domain={[-1.95, 22.46]} ticks={scoreTicks} interval={0} allowDataOverflow tickLine={false} tickSize={0} tickMargin={9} axisLine={{ stroke: "#d9dbe1" }}
          tick={<AxisTick format={scoreFormat} />} />
        <Bar dataKey="redPart" stackId="s" barSize={4} fill="#f2564f" isAnimationActive={false} />
        <Bar dataKey="yellowPart" stackId="s" barSize={4} fill="#ffff00" isAnimationActive={false} />
        <Bar dataKey="greenPart" stackId="s" barSize={4} fill="#159c0a" isAnimationActive={false} />
        <ReferenceLine y={15} stroke="#9c27b0" strokeWidth={1} />
        <ReferenceLine y={10} stroke="#9c27b0" strokeWidth={1} />
        <ReferenceLine y={5} stroke="#9c27b0" strokeWidth={1} />
        <Line dataKey="score" stroke="#2196f3" strokeWidth={2} dot={false} connectNulls isAnimationActive={false} />
      </ComposedChart>
    </div>
  );
}

// screen chrome
function T({ x, y, children, size = 13, color = TEXT, weight = 400, anchor = "center" }: any) {
  const tx = anchor === "center" ? "-50%" : "0";
  return (
    <div style={{ position: "absolute", left: x, top: y, transform: `translate(${tx},-50%)`, fontFamily: FONT, fontSize: size, color, fontWeight: weight, whiteSpace: "nowrap", lineHeight: 1 }}>
      {children}
    </div>
  );
}
function Box({ x, y, w, h, bg, r = 0, border, children, z }: any) {
  return (
    <div style={{ position: "absolute", left: x, top: y, width: w, height: h, background: bg, borderRadius: r, border, boxSizing: "border-box", zIndex: z }}>
      {children}
    </div>
  );
}
function Icon({ x, y, size = 24, color = "#2a2e39", sw = 1.3, children }: any) {
  return (
    <svg width={size} height={size} viewBox="0 0 24 24" fill="none" stroke={color} strokeWidth={sw} style={{ position: "absolute", left: x - size / 2, top: y - size / 2 }}>
      {children}
    </svg>
  );
}
function Badge({ x, y, text, w = 18 }: any) {
  return (
    <div style={{ position: "absolute", left: x - w / 2, top: y - 7.5, width: w, height: 15, borderRadius: 8, background: "#f23645", color: "#fff", fontFamily: FONT, fontSize: 11, lineHeight: "15px", textAlign: "center" }}>
      {text}
    </div>
  );
}
function Chevron({ x, y }: any) {
  return <Icon x={x} y={y} size={14}><path d="M6 9l6 5 6-5" strokeWidth={2} /></Icon>;
}
function Loop({ x, y }: any) {
  return (
    <>
      <div style={{ position: "absolute", left: x - 9, top: y - 9, width: 18, height: 18, borderRadius: 9, background: "#ece6f7" }} />
      <Icon x={x} y={y} size={16} color="#6b34e0" sw={2.4}><path d="M4 12a8 8 0 0 1 14-5M20 12a8 8 0 0 1-14 5M18 3v4h-4M6 21v-4h4" /></Icon>
    </>
  );
}
function PaneButton({ x, y }: any) {
  return (
    <>
      <Box x={x} y={y} w={29} h={20} bg="#fff" r={3} border="1px solid #e0e3eb" />
      <Chevron x={x + 14} y={y + 10} />
    </>
  );
}
function MyrButton({ y }: any) {
  return (
    <>
      <Box x={968} y={y} w={59} h={23} bg="#fff" r={4} border="1px solid #e0e3eb" />
      <T x={972} y={y + 11.5} size={12} anchor="left">MYR</T>
      <Chevron x={1019} y={y + 11.5} />
    </>
  );
}
function EventE({ x }: any) {
  return (
    <div style={{ position: "absolute", left: x - 9, top: 556, width: 18, height: 18, border: "1.5px solid #555", borderRadius: 3, background: "#f4f4f4", boxSizing: "border-box", fontFamily: FONT, fontSize: 11, fontWeight: 600, color: "#444", textAlign: "center", lineHeight: "15px" }}>
      E
    </div>
  );
}

const leftIcons: [number, React.ReactNode][] = [
  [104, <g><path d="M5 19L19 5" /><circle cx="4" cy="20" r="2" /><circle cx="20" cy="4" r="2" /></g>],
  [143, <g><path d="M1 5h22M1 10h22M1 15h22M1 20h22" /><circle cx="19" cy="15" r="2" fill="#fff" /></g>],
  [181, <g><path d="M5 20L7 6l11-2 2 15-9-8z" /><circle cx="5" cy="20" r="2" /><circle cx="7" cy="6" r="2" /><circle cx="18" cy="4" r="2" /><circle cx="20" cy="19" r="2" /><circle cx="11" cy="11" r="2" /></g>],
  [218, <g><path d="M3 3v18M3 7h8M3 21h18M8 14h13M3 14h3M14 7h4" /></g>],
  [258, <g><path d="M2 21c6 1 7-3 9-6l3-3c4-3 6-6 8-8-3 1-7 3-10 6l-3 3" /></g>],
  [295, <g><path d="M4 5V3h16v2M12 3v18M9 21h6" /></g>],
  [333, <g><circle cx="12" cy="12" r="9" /><circle cx="9" cy="10" r="1" /><circle cx="15" cy="10" r="1" /><path d="M8 15c2 2 6 2 8 0" /></g>],
  [383, <g><path d="M2 17L17 2l5 5L7 22z M6 13l2 2M9 10l3 3M12 7l2 2M15 4l3 3" /></g>],
  [421, <g><circle cx="11" cy="11" r="7" /><path d="M16 16l6 6M11 8v6M8 11h6" /></g>],
  [473, <g><path d="M4 20V11a8 8 0 0 1 16 0v9h-5v-9a3 3 0 0 0-6 0v9zM4 16h5M15 16h5" /></g>],
  [510, <g><path d="M3 20l1-5L14 5l4 4L8 19zM15 4l2-2 4 4-2 2" /><rect x="15" y="16" width="7" height="6" /></g>],
  [548, <g><rect x="5" y="11" width="14" height="10" /><path d="M8 11V7a4 4 0 0 1 8 0" /></g>],
  [587, <g><path d="M2 12c5-8 15-8 20 0-5 8-15 8-20 0z" /><circle cx="12" cy="12" r="3" /></g>],
  [625, <g><path d="M9 15l6-6M7 12l-3 3a4 4 0 0 0 5 5l3-3M12 7l3-3a4 4 0 0 1 5 5l-3 3" /></g>],
  [675, <g><path d="M4 6h16M9 6V3h6v3M6 6l1 16h10l1-16" /></g>],
];
const rightIcons: [number, React.ReactNode][] = [
  [66, <g><path d="M5 3h14v18l-7-3-7 3zM8 8h8M8 12h8" /></g>],
  [111, <g><circle cx="12" cy="13" r="9" /><path d="M12 8v5l-4 1M2 5l4-3M22 5l-4-3" /></g>],
  [158, <g><path d="M12 3l10 6-10 6L2 9zM2 14l10 6 10-6" /></g>],
  [204, <g><path d="M2 5h20v13h-8l-4 4v-4H2zM7 10h10" /></g>],
  [772, <g><circle cx="12" cy="12" r="10" /><circle cx="12" cy="12" r="5" /><path d="M12 12l8-7" /></g>],
  [816, <g><path d="M2 21L12 10l10 11zM5 10l7-7 7 7-7 5z" /></g>],
  [860, <g><rect x="2" y="5" width="20" height="17" rx="2" /><path d="M2 10h20M7 2v5M17 2v5" /></g>],
  [908, <g><path d="M3 21h.5M3 15a6 6 0 0 1 6 6M3 9a12 12 0 0 1 12 6M3 3a18 18 0 0 1 18 18" /></g>],
  [953, <g><path d="M5 18V11a7 7 0 0 1 14 0v7M2 18h20M9 21h6" /></g>],
  [1055, <g><circle cx="12" cy="12" r="11" /><path d="M9 9a3 3 0 1 1 4 3c-1 .5-1 1-1 3M12 18v1" /></g>],
];

function Chrome() {
  return (
    <>
      <Box x={0} y={0} w={1080} h={38} bg="#fff" />
      <Box x={0} y={42} w={52} h={1000} bg="#fff" />
      <Box x={1037} y={42} w={43} h={1038} bg="#fff" />
      <Box x={0} y={1043} w={1033} h={37} bg="#fff" />
      <Box x={56} y={42} w={977} h={1000} bg="#fff" />
    </>
  );
}

function Overlay() {
  return (
    <>
      {/* pane separators */}
      {[578, 671, 772, 883, 1041].map((y) => <Box key={y} x={56} y={y} w={977} h={1} bg="#e0e3eb" />)}

      {/* top bar */}
      <div style={{ position: "absolute", left: 12, top: 6, width: 26, height: 26, borderRadius: 13, background: "#000" }} />
      <T x={25} y={19} size={13} color="#19d419" weight={700}>M</T>
      <Badge x={40} y={10} text="11" w={20} />
      <Box x={56} y={5} w={127} h={28} bg="#efefef" r={14} />
      <T x={68} y={19} size={14} weight={700} color="#131722" anchor="left">UTDPLT</T>
      <div style={{ position: "absolute", left: 158, top: 7, width: 24, height: 24, borderRadius: 12, background: "#fff" }} />
      <Icon x={170} y={19} size={18} sw={1.8}><path d="M4 9l4-4h8l4 4-8 10zM8 10h8" /></Icon>
      <Icon x={207} y={19} size={22}><circle cx="12" cy="12" r="10" /><path d="M12 6v12M6 12h12" /></Icon>
      <Box x={231} y={8} w={1} h={22} bg="#e0e3eb" />
      <Box x={469} y={2} w={18} h={34} bg="#e8e8e8" r={4} />
      {timeframes.map((t, i) => <T key={t} x={timeframeX[i]} y={19} size={13.5}>{t}</T>)}
      <Chevron x={526} y={19} />
      <Box x={543} y={8} w={1} h={22} bg="#e0e3eb" />
      <Icon x={567} y={19} size={22}><path d="M6 3v18M18 5v14" /><rect x="3" y="7" width="6" height="10" fill="#fff" /><rect x="15" y="9" width="6" height="6" fill="#fff" /></Icon>
      <Box x={591} y={8} w={1} h={22} bg="#e0e3eb" />
      <Icon x={612} y={19} size={24}><path d="M3 11l5-5 4 3 7-6M3 21v-5h5v5M8 21V13h6v8M14 21V10h6v11zM3 21h18" /></Icon>
      <Chevron x={644} y={19} />
      <Icon x={676} y={19} size={22}><rect x="3" y="3" width="7" height="7" rx="2" /><rect x="14" y="3" width="7" height="7" rx="2" /><rect x="3" y="14" width="7" height="7" rx="2" /><rect x="14" y="14" width="7" height="7" rx="2" /></Icon>
      <Box x={704} y={8} w={1} h={22} bg="#e0e3eb" />
      <Icon x={722} y={19} size={24}><circle cx="12" cy="12" r="8" /><path d="M12 7v5l-3 1M3 5l3-3M21 5l-3-3M18 17v6M15 20h6" /></Icon>
      <Icon x={761} y={19} size={20}><path d="M11 5l-8 7 8 7zM20 5l-7 7 7 7z" /></Icon>
      <Box x={787} y={8} w={1} h={22} bg="#e0e3eb" />
      <Icon x={806} y={19} size={20} color="#9598a1"><path d="M9 5L4 10l5 5M4 10h10c3 0 5 2 5 6" /></Icon>
      <Icon x={844} y={19} size={20} color="#9598a1"><path d="M15 5l5 5-5 5M20 10H10c-3 0-5 2-5 6" /></Icon>
      <Icon x={883} y={19} size={24}><rect x="3" y="4" width="18" height="16" rx="2" /></Icon>
      <T x={907} y={19} size={13.5} anchor="left">INtra</T>
      <Box x={938} y={5} w={60} h={28} bg="#fff" r={14} border="1px solid #ececec" />
      <T x={968} y={19} size={14}>Trade</T>
      <Box x={1006} y={5} w={69} h={28} bg="#2e2e2e" r={14} />
      <T x={1040} y={19} size={14} color="#fff">Publish</T>

      {/* left and right toolbars */}
      {leftIcons.map(([y, g]) => <Icon key={y} x={26} y={y}>{g}</Icon>)}
      {[358, 447, 650].map((y) => <Box key={y} x={10} y={y} w={32} h={1} bg="#e0e3eb" />)}
      <Box x={9} y={1024} w={34} h={34} bg="#333" r={4} />
      <Icon x={26} y={1041} color="#fff" size={22}><path d="M12 3l3 6 6 1-4.500 4.500 1 6.500-5.500-3-5.500 3 1-6.500L3 10l6-1z" /></Icon>
      {rightIcons.map(([y, g]) => <Icon key={y} x={1058} y={y}>{g}</Icon>)}
      <Badge x={1068} y={193} text="1" w={15} />
      <Badge x={1062} y={896} text="99+" w={30} />
      <Badge x={1065} y={942} text="59" w={22} />
      <div style={{ position: "absolute", left: 1041, top: 982, width: 34, height: 34, borderRadius: 17, background: "#2e2e2e" }} />
      <Icon x={1058} y={999} size={22} color="#fff" sw={3.4}><path d="M5 5h2M11 5h2M17 5h2M5 12h2M11 12h2M17 12h2M5 19h2M11 19h2M17 19h2" /></Icon>

      {/* legend line */}
      <div style={{ position: "absolute", left: 228, top: 51, width: 40, height: 15, borderRadius: 8, background: "#d9eeea" }} />
      <div style={{ position: "absolute", left: 235, top: 55, width: 7, height: 7, borderRadius: 4, background: "#0b6b5f" }} />
      <T x={257} y={58.5} size={12} color="#2e9e4a">☾</T>
      <div style={{ position: "absolute", left: 277, top: 59, transform: "translateY(-50%)", fontFamily: FONT, fontSize: 12, whiteSpace: "nowrap", color: "#f7525f", lineHeight: 1 }}>
        <span style={{ color: TEXT }}>O</span>32.02 <span style={{ color: TEXT }}>H</span>32.46 <span style={{ color: TEXT }}>L</span>31.52 <span style={{ color: TEXT }}>C</span>31.70 −0.30 (−0.94%)
      </div>

      {/* quick trade */}
      <Box x={65} y={66} w={53} h={42} bg="#fff" r={5} border="1px solid #f7525f" />
      <T x={91} y={83} size={12} color="#f23645" weight={600}>31.68</T>
      <T x={91} y={98} size={11} color="#f7525f">SELL</T>
      <T x={136} y={90} size={10.5}>0.06</T>
      <Box x={154} y={66} w={53} h={42} bg="#fff" r={5} border="1px solid #2962ff" />
      <T x={180} y={83} size={12} color="#2962ff" weight={600}>31.74</T>
      <T x={180} y={98} size={11} color="#2962ff">BUY</T>
      <Box x={65} y={115} w={39} h={21} bg="#fff" r={3} border="1px solid #e0e3eb" />
      <Chevron x={75} y={125} />
      <T x={92} y={126} size={12.5}>12</T>
      <Loop x={128} y={126} />

      {/* tooltip */}
      <Box x={10} y={42} w={211} h={42} bg="#2f2f2f" r={3} />
      <T x={18} y={54} size={12} color="#e8e8e8" anchor="left">Logged in as MahersahamOfficial</T>
      <T x={18} y={72} size={12} color="#e8e8e8" anchor="left">Active layout: INtraswing 1D</T>

      {/* wave drawing bar */}
      <Box x={540} y={100} w={100} h={37} bg="#fff" r={6} />
      <div style={{ position: "absolute", left: 540, top: 100, width: 100, height: 37, borderRadius: 6, boxShadow: "0 1px 6px rgba(0,0,0,0.12)" }} />
      <T x={552} y={118} size={14} color="#c8c8cc">⠿</T>
      <Icon x={583} y={120} size={28}><path d="M3 20l6-6 6 5 6-6" /><circle cx="3" cy="20" r="1.5" fill="#fff" /><circle cx="9" cy="14" r="1.5" fill="#fff" /><circle cx="15" cy="19" r="1.5" fill="#fff" /><circle cx="21" cy="13" r="1.5" fill="#fff" /></Icon>
      <Icon x={621} y={120} size={28}><path d="M3 20l6-6 6 5 6-6" /><circle cx="3" cy="20" r="1.5" fill="#fff" /><circle cx="9" cy="14" r="1.5" fill="#fff" /><circle cx="15" cy="19" r="1.5" fill="#fff" /><circle cx="21" cy="13" r="1.5" fill="#fff" /></Icon>
      <T x={580} y={108} size={8} weight={700} color="#222">1</T>
      <T x={595} y={108} size={8} weight={700} color="#222">5</T>
      <T x={619} y={108} size={8} weight={700} color="#222">A</T>
      <T x={633} y={108} size={8} weight={700} color="#222">C</T>

      {/* price tag */}
      <Box x={913} y={229} w={95} h={18} bg="#00e676" r={2} />
      <Box x={969} y={229} w={1} h={18} bg="#00c765" />
      <T x={917} y={238} size={12.5} color="#10221a" anchor="left">UTDPLT</T>
      <T x={988} y={238} size={12.5} color="#10221a">31.70</T>

      {/* events */}
      <EventE x={305} />
      <div style={{ position: "absolute", left: 508, top: 556, width: 18, height: 18, borderRadius: 9, border: "2px solid #2962ff", boxSizing: "border-box", background: "#fff" }} />
      <EventE x={505} />
      <EventE x={805} />
      <div style={{ position: "absolute", left: 900, top: 555, width: 20, height: 20, borderRadius: 10, border: "1.5px solid #9c27b0", boxSizing: "border-box", background: "#fff", color: "#9c27b0", fontSize: 13, lineHeight: "17px", textAlign: "center", fontFamily: FONT }}>⚡</div>

      <MyrButton y={48} />
      <MyrButton y={587} />
      <MyrButton y={678} />
      <PaneButton x={65} y={587} />
      <Loop x={119} y={597} />
      <PaneButton x={65} y={680} />
      <Loop x={119} y={690} />
      <PaneButton x={65} y={780} />
      <Loop x={119} y={791} />

      {/* watermark */}
      <svg width={36} height={20} viewBox="0 0 36 20" style={{ position: "absolute", left: 66, top: 982 }}>
        <path d="M1 2h14v16H8V8H1z M22 2l-7 16h8l7-16z" fill="#111" stroke="#fff" strokeWidth={1} />
        <circle cx="19" cy="6" r="3.500" fill="#111" />
      </svg>

      {/* bottom bar */}
      {ranges.map((r, i) => <T key={r} x={rangeX[i]} y={1061} size={13.5}>{r}</T>)}
      <Box x={351} y={1050} w={1} h={22} bg="#e0e3eb" />
      <Icon x={371} y={1061} size={20}><rect x="3" y="5" width="16" height="15" rx="1" /><path d="M3 9h16M7 2v4M15 2v4M9 14h11M17 11l3 3-3 3" /></Icon>
      <T x={925} y={1061} size={13.5}>12:50:20 UTC+8</T>
      <Box x={983} y={1050} w={1} h={22} bg="#e0e3eb" />
      <T x={1008} y={1061} size={13.5}>ADJ</T>
      <Icon x={997} y={1028} size={18} sw={1.5}><path d="M2 12l5-8h10l5 8-5 8H7z" /><circle cx="12" cy="12" r="3" /></Icon>
    </>
  );
}

export default function App() {
  return (
    <div style={{ position: "fixed", left: 0, top: 0, width: 1080, height: 1080, background: "#e9e9ea", overflow: "hidden" }}>
      <Chrome />
      <PricePane />
      <StepPane />
      <FlatPane />
      <HistPane />
      <ScorePane />
      <Overlay />
    </div>
  );
}
